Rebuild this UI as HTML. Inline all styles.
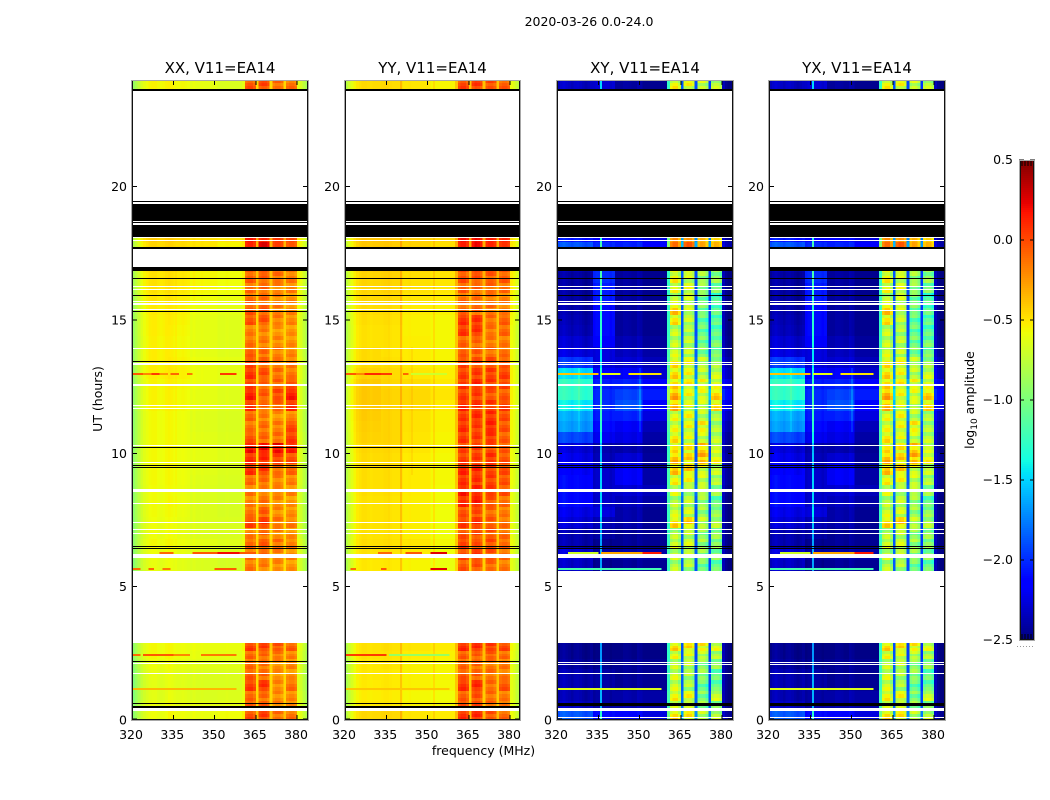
<!DOCTYPE html>
<html lang="en">
<head>
<meta charset="utf-8">
<title>2020-03-26 amplitude waterfall</title>
<style>
html,body{margin:0;padding:0;background:#fff;}
svg{display:block;}
text{font-family:"DejaVu Sans","Liberation Sans",sans-serif;fill:#000;}
</style>
</head>
<body>
<svg id="chart" xmlns="http://www.w3.org/2000/svg" width="1050" height="800" viewBox="0 0 1050 800">
  <text x="589" y="26" font-size="12.5" text-anchor="middle">2020-03-26 0.0-24.0</text>
  <text x="483.5" y="755" font-size="12.5" text-anchor="middle">frequency (MHz)</text>
  <text transform="translate(102,399) rotate(-90)" font-size="12.5" text-anchor="middle">UT (hours)</text>
  <text transform="translate(974,400) rotate(-90)" font-size="12.5" text-anchor="middle">log<tspan font-size="9" dy="3">10</tspan><tspan dy="-3"> amplitude</tspan></text>
  <g id="panels"></g>
  <g id="colorbar"></g>
</svg>
<script>
// ---- chart data (amplitudes are log10 values x 100) ----
const panelTitles = ["XX, V11=EA14", "YY, V11=EA14", "XY, V11=EA14", "YX, V11=EA14"];
const xTickLabels = [320, 335, 350, 365, 380];
const yTickLabels = [0, 5, 10, 15, 20];
const colorbarTicks = [0.5, 0, -0.5, -1, -1.5, -2, -2.5];

const rowStartHours = [0,0.35,0.7,1.1,1.5,1.9,2.3,2.6,5.6,6,6.4,6.8,7.2,7.6,8,8.4,8.8,9.2,9.6,10,10.4,10.8,11.2,11.6,12,12.4,12.8,13.2,13.6,14,14.4,14.8,15.2,15.6,16,16.4,16.8,17.72,17.93,23.65];
const rowEndHours = [0.35,0.7,1.1,1.5,1.9,2.3,2.6,2.9,6,6.4,6.8,7.2,7.6,8,8.4,8.8,9.2,9.6,10,10.4,10.8,11.2,11.6,12,12.4,12.8,13.2,13.6,14,14.4,14.8,15.2,15.6,16,16.4,16.8,17,17.93,18.08,24];

// columns: ch0-12, ch13-20, ch21-30, ch31-40, window1..window4, tail
const xxBlocks = [
[-62,-60,-60,-58,-20,-15,-30,-30,-66],
[-63,-62,-62,-62,-22,-25,-35,-35,-68],
[-66,-64,-66,-65,-28,-30,-38,-38,-70],
[-66,-65,-66,-66,-15,-12,-38,-30,-72],
[-64,-64,-65,-65,-25,-28,-40,-40,-70],
[-62,-62,-63,-63,-30,-32,-38,-38,-68],
[-60,-60,-61,-62,-28,-28,-32,-36,-68],
[-60,-60,-60,-60,-15,-15,-22,-25,-66],
[-64,-64,-66,-68,-34,-35,-38,-42,-72],
[-62,-62,-64,-66,-32,-30,-35,-38,-70],
[-60,-60,-62,-64,-28,-25,-30,-35,-68],
[-62,-62,-65,-66,-35,-30,-38,-40,-72],
[-62,-62,-65,-66,-18,-14,-32,-35,-72],
[-61,-61,-65,-67,-32,-25,-38,-40,-72],
[-61,-60,-65,-67,-36,-32,-38,-42,-72],
[-61,-61,-65,-67,-34,-32,-38,-38,-72],
[-60,-60,-64,-66,-30,-30,-35,-36,-70],
[-60,-60,-63,-65,-12,-14,-28,-28,-70],
[-60,-60,-62,-64,-10,-8,-15,-20,-68],
[-60,-60,-62,-64,-2,0,3,-5,-68],
[-60,-60,-63,-65,-22,-28,-30,-14,-68],
[-60,-60,-64,-66,-32,-30,-34,-18,-70],
[-60,-60,-64,-66,-28,-35,-40,-38,-70],
[-58,-58,-62,-64,-12,-28,-25,-10,-68],
[-58,-58,-62,-64,-6,-24,-18,-4,-68],
[-58,-57,-60,-63,-16,-26,-26,-20,-68],
[-56,-55,-60,-62,-12,-20,-30,-32,-66],
[-56,-56,-60,-62,-18,-24,-34,-34,-66],
[-56,-57,-62,-64,-26,-30,-34,-38,-68],
[-57,-58,-62,-64,-32,-34,-38,-40,-68],
[-56,-57,-62,-64,-36,-36,-42,-42,-68],
[-56,-56,-62,-64,-22,-22,-34,-38,-68],
[-55,-55,-60,-62,-24,-24,-34,-38,-66],
[-54,-54,-58,-60,-30,-30,-38,-40,-64],
[-52,-52,-56,-58,-30,-28,-36,-36,-64],
[-52,-52,-56,-58,-26,-26,-30,-34,-62],
[-50,-50,-55,-58,-22,-20,-28,-30,-62],
[-48,-48,-50,-55,-5,10,-12,-20,-60],
[-45,-45,-48,-50,0,-5,-10,-15,-58],
[-58,-58,-62,-66,-22,-18,-28,-30,-70]
];
const yyBlocks = [
[-47,-46,-50,-52,-8,-5,-22,-28,-64],
[-52,-52,-54,-56,-15,-15,-28,-30,-66],
[-54,-53,-56,-58,-22,-18,-30,-34,-68],
[-53,-52,-54,-56,-8,-5,-30,-22,-68],
[-52,-52,-54,-55,-20,-22,-32,-34,-66],
[-52,-51,-54,-55,-25,-25,-32,-34,-66],
[-50,-50,-52,-54,-22,-22,-25,-30,-64],
[-50,-49,-50,-52,-6,-6,-15,-18,-62],
[-52,-52,-55,-60,-20,-18,-28,-34,-68],
[-50,-50,-52,-58,-15,-10,-22,-30,-66],
[-49,-49,-50,-56,-12,-18,-20,-28,-64],
[-50,-50,-53,-58,-18,-16,-24,-30,-66],
[-50,-50,-53,-58,-12,-8,-25,-32,-66],
[-50,-50,-53,-58,-18,-16,-28,-34,-66],
[-50,-50,-53,-57,-5,-2,-22,-30,-66],
[-49,-49,-52,-57,-2,0,-15,-22,-66],
[-49,-49,-52,-56,-8,-8,-15,-22,-64],
[-49,-49,-52,-56,-5,-5,-15,-20,-64],
[-48,-48,-52,-56,-12,-10,-12,-22,-64],
[-47,-47,-50,-55,-14,-12,-18,-24,-64],
[-45,-46,-50,-55,-10,-10,-12,-25,-62],
[-44,-46,-49,-54,-8,-10,-8,-22,-62],
[-43,-46,-49,-54,-10,-6,-10,-20,-62],
[-42,-45,-46,-52,-5,-6,-14,-15,-60],
[-42,-45,-46,-50,-12,-10,-22,-24,-60],
[-42,-46,-47,-51,-10,-4,-14,-18,-60],
[-45,-47,-50,-53,-12,-10,-15,-16,-60],
[-48,-49,-52,-55,-14,-14,-22,-24,-62],
[-48,-50,-52,-55,-22,-22,-30,-30,-62],
[-50,-50,-53,-56,-24,-24,-34,-34,-64],
[-50,-50,-54,-56,-10,-8,-32,-28,-64],
[-49,-49,-54,-56,-8,-8,-30,-26,-62],
[-48,-48,-52,-54,-25,-25,-32,-35,-60],
[-47,-47,-50,-52,-28,-28,-34,-36,-60],
[-46,-45,-48,-50,-22,-24,-28,-30,-58],
[-46,-45,-48,-50,-18,-18,-25,-25,-58],
[-44,-44,-46,-48,-12,-12,-18,-20,-56],
[-42,-42,-44,-48,0,8,-5,-10,-56],
[-40,-40,-42,-45,4,6,-2,-5,-54],
[-48,-47,-50,-55,-14,-10,-20,-25,-66]
];
const crossBlocks = [
[-190,-210,-215,-225,-60,-65,-85,-85,-245],
[-235,-240,-240,-240,-75,-85,-100,-100,-250],
[-240,-240,-240,-240,-70,-70,-105,-80,-250],
[-240,-240,-245,-245,-80,-90,-115,-115,-250],
[-240,-240,-245,-245,-80,-90,-100,-115,-250],
[-245,-245,-245,-245,-85,-85,-100,-100,-250],
[-248,-248,-248,-248,-75,-75,-85,-90,-250],
[-248,-248,-248,-248,-60,-60,-65,-75,-250],
[-235,-245,-245,-245,-90,-90,-110,-115,-250],
[-230,-240,-240,-240,-85,-85,-100,-105,-248],
[-240,-245,-245,-245,-80,-80,-95,-100,-250],
[-240,-240,-245,-245,-90,-85,-100,-100,-250],
[-230,-235,-240,-245,-60,-55,-85,-90,-250],
[-225,-225,-240,-245,-80,-80,-95,-100,-250],
[-215,-230,-235,-240,-90,-85,-95,-115,-250],
[-215,-230,-230,-235,-80,-85,-90,-100,-248],
[-215,-230,-220,-240,-70,-70,-80,-90,-245],
[-220,-230,-220,-240,-55,-55,-75,-85,-245],
[-225,-235,-230,-243,-50,-55,-45,-70,-245],
[-230,-238,-240,-245,-65,-65,-50,-80,-248],
[-195,-220,-225,-240,-65,-75,-80,-85,-245],
[-170,-210,-220,-235,-75,-70,-65,-90,-240],
[-165,-205,-205,-225,-75,-70,-85,-90,-235],
[-145,-200,-190,-215,-50,-75,-80,-60,-225],
[-130,-200,-195,-205,-45,-70,-75,-55,-215],
[-130,-205,-205,-215,-60,-65,-70,-75,-225],
[-150,-215,-220,-230,-60,-70,-85,-80,-235],
[-200,-225,-230,-235,-65,-70,-85,-95,-240],
[-228,-225,-235,-240,-80,-85,-105,-110,-245],
[-232,-215,-238,-243,-85,-85,-110,-110,-248],
[-238,-210,-243,-246,-85,-90,-115,-120,-250],
[-240,-210,-243,-246,-65,-85,-115,-120,-250],
[-242,-210,-243,-246,-55,-80,-110,-120,-250],
[-244,-205,-243,-246,-85,-80,-110,-125,-250],
[-244,-205,-243,-246,-75,-75,-100,-110,-250],
[-244,-200,-243,-246,-70,-80,-95,-100,-250],
[-240,-200,-243,-246,-65,-70,-85,-90,-250],
[-190,-200,-205,-215,-20,-10,-35,-40,-240],
[-210,-215,-215,-225,-30,-30,-40,-50,-245],
[-235,-228,-243,-246,-70,-70,-80,-85,-250]
];

// per-channel adjustment (64 channels, 1 MHz each)
const xxChannelOffset = [-32,-24,-16,-8,-3,0,3,4,4,2, 1,2,4,5,4,2,1,1,2,1, 0,0,2,0,0,1,0,0,0,0, 0,0,0,0,1,0,0,0,0,0, 4,13,18,18,11,20,13,18,17,11, 20,13,17,17,11,20,13,17,17,11, 8,3,-6,-16];
const yyChannelOffset = [-30,-22,-14,-7,-2,0,2,2,1,0, 1,1,1,1,2,2,1,0,0,0, 0,0,0,1,0,0,0,0,0,0, 0,0,0,0,0,0,0,0,0,0, 16,9,15,15,7,16,9,15,13,7, 16,14,18,18,12,16,14,18,18,12, 6,2,-6,-16];
const xyChannelOffset = [0,5,8,5,3,0,4,5,3,0, -3,0,3,-3,0,0,0,0,0,-3, 0,0,0,0,3,3,2,0,0,5, 3,0,0,0,0,0,0,0,0,0, 120,0,10,10,-8,60,0,8,6,-5, 55,0,8,6,-8,50,0,8,6,-6, 15,5,0,0];
const yxChannelOffset = [0,5,8,5,3,0,4,5,3,0, -3,0,3,-3,0,0,0,0,0,-3, 0,0,0,0,3,3,2,0,0,5, 3,0,0,0,0,0,0,0,0,0, 120,0,10,10,-8,58,0,8,6,-5, 53,0,8,6,-8,48,0,8,6,-6, 15,5,0,0];
const channelColumn = [0,0,0,0,0,0,0,0,0,0, 0,0,0,1,1,1,1,1,1,1, 1,2,2,2,2,2,2,2,2,2, 2,3,3,3,3,3,3,3,3,3, 3,4,4,4,4,3,5,5,5,5, 3,6,6,6,6,3,7,7,7,7, 8,8,8,8];

// mottling applied to the three sub-rows of each window cell
const parallelSubRow = [7,-5,2];
const crossSubRow = [14,-12,5];

// narrow spectral lines: frequency MHz, from hour, to hour, amplitude added
const xxNarrowLines = [[335.7,5.6,17,4]];
const yyNarrowLines = [[339.9,0,24,12],[344,9,14,5],[352,0,24,8],[335.8,5.6,17,3]];
const crossNarrowLines = [[335.7,0,24,80],[327.8,10.5,13.2,12],[349.8,10.6,13.2,20]];

// narrow interference rows: hour, first channel, last channel, value
const xxRfi = [[12.97,0,3,-5],[12.97,4,6,-20],[12.97,7,9,5],[12.97,10,12,-25],[12.97,14,16,-10],[12.97,20,21,-15],[12.97,32,37,5],[6.25,10,14,-10],[6.25,22,30,-5],[6.25,31,38,20],[6.25,39,44,-5],[5.65,0,2,-10],[5.65,6,7,-10],[5.65,11,13,-15],[5.65,30,37,-5],[2.45,0,2,-10],[2.45,4,14,-5],[2.45,15,20,-20],[2.45,25,37,-15],[1.15,0,37,-35]];
const yyRfi = [[12.97,0,3,-5],[12.97,4,6,-20],[12.97,7,12,10],[12.97,13,16,5],[12.97,21,22,-10],[12.97,24,36,-70],[6.25,12,16,-10],[6.25,22,27,-5],[6.25,31,36,25],[5.65,2,3,-10],[5.65,13,14,-5],[5.65,31,36,25],[2.45,0,14,5],[2.45,16,37,-90],[1.15,0,37,-40]];
const crossRfi = [[12.97,0,14,-40],[12.97,16,22,-60],[12.97,26,37,-50],[6.25,4,14,-70],[6.25,16,30,-30],[6.25,31,37,15],[5.65,0,37,-120],[1.15,0,37,-65]];

// flagged time ranges: [upper hour, lower hour]
const blackBandsParallel = [[19.46,19.42],[19.36,18.1],[17.74,17.67],[16.99,16.85],[23.66,23.59],[16.58,16.54],[15.95,15.91],[15.35,15.31],[13.47,13.43],[10.25,10.21],[9.56,9.52],[9.5,9.46],[6.53,6.49],[6.46,6.42],[2.22,2.18],[0.65,0.61],[0.54,0.46]];
const whiteBandsParallel = [[18.73,18.69],[18.62,18.58],[17.99,17.95],[16.28,16.24],[16.18,16.14],[15.71,15.67],[15.62,15.58],[15.41,15.37],[13.96,13.92],[13.37,13.33],[12.6,12.56],[12.55,12.51],[11.81,11.77],[11.71,11.67],[10.31,10.27],[9.68,9.64],[8.65,8.56],[8.15,8.11],[7.43,7.39],[7.16,7.12],[7.02,6.98],[6.24,6.09],[2.13,2.09],[1.77,1.73],[0.46,0.34]];
const blackBandsCross = [[19.46,19.42],[19.36,18.1],[17.74,17.67],[16.99,16.85],[23.66,23.59],[16.58,16.54],[15.95,15.91],[9.56,9.52],[9.5,9.46],[6.53,6.49],[6.46,6.42],[0.62,0.58],[0.55,0.51]];
const whiteBandsCross = [[18.73,18.69],[18.62,18.58],[17.99,17.95],[16.28,16.24],[16.18,16.14],[15.71,15.67],[15.62,15.58],[15.39,15.35],[13.96,13.92],[13.44,13.41],[13.36,13.33],[12.6,12.56],[12.55,12.51],[11.81,11.77],[11.71,11.67],[10.33,10.29],[9.68,9.64],[8.65,8.56],[8.15,8.11],[7.43,7.39],[7.16,7.12],[7.02,6.98],[6.24,6.09],[2.17,2.13],[2.11,2.07],[1.77,1.73],[0.45,0.35],[0.12,0.08]];

// ---- drawing ----
const NS = "http://www.w3.org/2000/svg";
const frameLeft = [131, 344, 556, 768];
const frameRight = [308, 520, 733, 945];
const plotTop = 80, plotBottom = 720;
const hourMax = 24, mhzPerChannel = 1, freqMin = 320, pxPerMHz = 2.75;

function xScale(p, freq) { return frameLeft[p] + 1 + (freq - freqMin) * pxPerMHz; }
function yScale(hour) { return plotBottom - hour * (plotBottom - plotTop) / hourMax; }
function ySnap(hour) { return Math.round(yScale(hour)); }
function clamp01(v) { return Math.max(0, Math.min(1, v)); }
function jet(v) {
  const t = clamp01((v + 2.5) / 3);
  function seg(pts) {
    for (let i = 1; i < pts.length; i++) {
      if (t <= pts[i][0]) {
        const a = pts[i - 1], b = pts[i];
        return a[1] + (b[1] - a[1]) * (t - a[0]) / (b[0] - a[0]);
      }
    }
    return pts[pts.length - 1][1];
  }
  const r = seg([[0, 0], [0.35, 0], [0.66, 1], [0.89, 1], [1, 0.5]]);
  const g = seg([[0, 0], [0.125, 0], [0.375, 1], [0.64, 1], [0.91, 0], [1, 0]]);
  const b = seg([[0, 0.5], [0.11, 1], [0.34, 1], [0.65, 0], [1, 0]]);
  return "rgb(" + Math.round(r * 255) + "," + Math.round(g * 255) + "," + Math.round(b * 255) + ")";
}
function svgEl(tag, parent) {
  const el = document.createElementNS(NS, tag);
  parent.appendChild(el);
  return el;
}
function rect(parent, x, y, w, h, fill) {
  const el = svgEl("rect", parent);
  el.setAttribute("x", x);
  el.setAttribute("y", y);
  el.setAttribute("width", w);
  el.setAttribute("height", h);
  el.setAttribute("fill", fill);
  el.setAttribute("shape-rendering", "crispEdges");
  return el;
}
function line(parent, x1, y1, x2, y2, color) {
  const el = svgEl("line", parent);
  el.setAttribute("x1", x1);
  el.setAttribute("y1", y1);
  el.setAttribute("x2", x2);
  el.setAttribute("y2", y2);
  el.setAttribute("stroke", color || "#000");
  el.setAttribute("stroke-width", "1");
  el.setAttribute("shape-rendering", "crispEdges");
  return el;
}
function label(parent, x, y, str, size, anchor) {
  const el = svgEl("text", parent);
  el.setAttribute("x", x);
  el.setAttribute("y", y);
  el.setAttribute("font-size", size);
  el.setAttribute("text-anchor", anchor);
  el.textContent = str;
  return el;
}

const panelBlocks = [xxBlocks, yyBlocks, crossBlocks, crossBlocks];
const panelOffsets = [xxChannelOffset, yyChannelOffset, xyChannelOffset, yxChannelOffset];
const panelSubRow = [parallelSubRow, parallelSubRow, crossSubRow, crossSubRow];
const panelNarrow = [xxNarrowLines, yyNarrowLines, crossNarrowLines, crossNarrowLines];
const panelRfi = [xxRfi, yyRfi, crossRfi, crossRfi];
const panelBlack = [blackBandsParallel, blackBandsParallel, blackBandsCross, blackBandsCross];
const panelWhite = [whiteBandsParallel, whiteBandsParallel, whiteBandsCross, whiteBandsCross];
const panelsRoot = document.getElementById("panels");

panelTitles.forEach(function (title, p) {
  const g = svgEl("g", panelsRoot);
  
  
  const left = frameLeft[p] + 1, right = frameRight[p], width = right - left;
  const blocks = panelBlocks[p], offsets = panelOffsets[p], subRow = panelSubRow[p];

  // heatmap cells
  blocks.forEach(function (row, r) {
    const yTop = ySnap(rowEndHours[r]);
    const yBot = ySnap(rowStartHours[r]);
    offsets.forEach(function (off, ch) {
      const col = channelColumn[ch];
      const x0 = xScale(p, freqMin + ch * mhzPerChannel);
      const x1 = Math.min(xScale(p, freqMin + (ch + 1) * mhzPerChannel), right);
      const parts = (col >= 4 && col <= 7 && yBot - yTop >= 6) ? 3 : 1;
      for (let s = 0; s < parts; s++) {
        const y0 = Math.round(yTop + (yBot - yTop) * s / parts);
        const y1 = Math.round(yTop + (yBot - yTop) * (s + 1) / parts);
        const mottle = parts === 3 ? subRow[(s + col) % 3] : 0;
        const cell = rect(g, x0, y0, x1 - x0, y1 - y0, jet((row[col] + off + mottle) / 100));
        
        
      }
    });
    // narrow spectral lines
    panelNarrow[p].forEach(function (n) {
      if (rowStartHours[r] >= n[1] && rowEndHours[r] <= n[2]) {
        const ch = Math.floor(n[0] - freqMin);
        const mark = rect(g, Math.round(xScale(p, n[0])), yTop, 2, yBot - yTop, jet((row[channelColumn[ch]] + n[3]) / 100));
        
        
      }
    });
  });

  // interference rows
  panelRfi[p].forEach(function (s) {
    const x0 = xScale(p, freqMin + s[1]);
    const x1 = xScale(p, freqMin + s[2] + 1);
    const mark = rect(g, x0, ySnap(s[0]) - 1, x1 - x0, 2, jet(s[3] / 100));
    
    
  });

  // flagged rows
  panelBlack[p].forEach(function (b) {
    const y0 = ySnap(b[0]);
    const band = rect(g, left, y0, width, Math.max(1, ySnap(b[1]) - y0), "#000");
    
    
  });
  panelWhite[p].forEach(function (b) {
    const y0 = ySnap(b[0]);
    const band = rect(g, left, y0, width, Math.max(1, ySnap(b[1]) - y0), "#fff");
    
    
  });

  // ticks and labels
  xTickLabels.forEach(function (f) {
    const x = xScale(p, f);
    const t1 = line(g, x, plotBottom, x, plotBottom - 5);
    
    
    const t2 = line(g, x, plotTop, x, plotTop + 5);
    
    
    const lab = label(g, x - 1, 739, String(f), 12.5, "middle");
    
    
  });
  yTickLabels.forEach(function (h) {
    const y = Math.min(yScale(h), plotBottom - 1);
    const t1 = line(g, left, y, left + 5, y);
    
    
    const t2 = line(g, right - 5, y, right, y);
    
    
    const lab = label(g, left - 5, yScale(h) + 4.5, String(h), 12.5, "end");
    
    
  });

  // frame (grey outer pixel, dark inner pixel on the sides and bottom) and title
  const inner = svgEl("path", g);
  inner.setAttribute("d", "M" + (frameLeft[p] + 1.5) + " " + plotTop + "V" + (plotBottom - 0.5) + "H" + (frameRight[p] - 0.5) + "V" + plotTop);
  inner.setAttribute("fill", "none");
  inner.setAttribute("stroke", "#111");
  inner.setAttribute("stroke-width", "1");
  
  
  const frame = svgEl("rect", g);
  frame.setAttribute("x", frameLeft[p] + 0.5);
  frame.setAttribute("y", plotTop + 0.5);
  frame.setAttribute("width", frameRight[p] - frameLeft[p]);
  frame.setAttribute("height", plotBottom - plotTop);
  frame.setAttribute("fill", "none");
  frame.setAttribute("stroke", "#a8a8a8");
  frame.setAttribute("stroke-width", "1");
  
  
  const ttl = label(g, left + width / 2, 73, title, 15, "middle");
  
  
});

// colorbar
const cbRoot = document.getElementById("colorbar");
const cbLeft = 1019, cbRight = 1035, cbTop = 160, cbBottom = 640;
const cbMin = -2.5, cbMax = 0.5;
function cbScale(v) { return cbBottom - (v - cbMin) * (cbBottom - cbTop) / (cbMax - cbMin); }
for (let y = cbTop; y < cbBottom; y += 2) {
  const strip = rect(cbRoot, cbLeft, y, cbRight - cbLeft, 2, jet(cbMax - (y + 1 - cbTop) * (cbMax - cbMin) / (cbBottom - cbTop)));
  
  
}
colorbarTicks.forEach(function (v) {
  const y = Math.min(cbScale(v), cbBottom - 0.5);
  const t1 = line(cbRoot, cbLeft, y, cbLeft + 5, y);
  
  
  const t2 = line(cbRoot, cbRight - 5, y, cbRight, y);
  
  
  const txt = (v < 0 ? "\u2212" : "") + Math.abs(v).toFixed(1);
  const lab = label(cbRoot, 1013, cbScale(v) + 4, txt, 12.5, "end");
  
  
});
[1022, 1025, 1028, 1031].forEach(function (x) {
  const a = line(cbRoot, x, cbTop, x, cbTop + 6);
  
  
  const b = line(cbRoot, x, cbBottom - 6, x, cbBottom);
  
  
});
const cbInner = svgEl("rect", cbRoot);
cbInner.setAttribute("x", cbLeft + 1.5);
cbInner.setAttribute("y", cbTop + 0.5);
cbInner.setAttribute("width", cbRight - cbLeft - 3);
cbInner.setAttribute("height", cbBottom - cbTop - 1);
cbInner.setAttribute("fill", "none");
cbInner.setAttribute("stroke", "#111");


const cbFrame = svgEl("rect", cbRoot);
cbFrame.setAttribute("x", cbLeft + 0.5);
cbFrame.setAttribute("y", cbTop + 0.5);
cbFrame.setAttribute("width", cbRight - cbLeft - 1);
cbFrame.setAttribute("height", cbBottom - cbTop);
cbFrame.setAttribute("fill", "none");
cbFrame.setAttribute("stroke", "#a8a8a8");


const cbDots = line(cbRoot, 1017, 646.5, 1035, 646.5, "#999");
cbDots.setAttribute("stroke-dasharray", "1 2");


</script>
</body>
</html>
